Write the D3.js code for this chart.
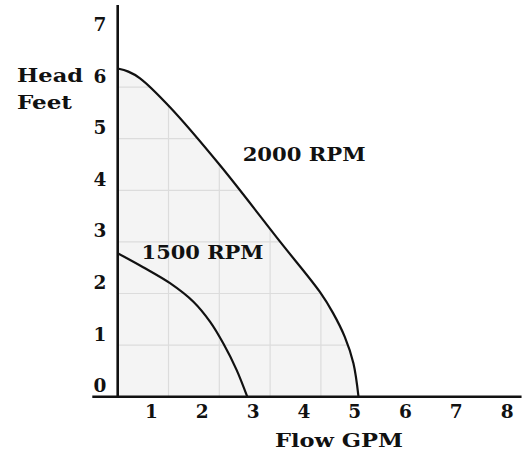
<!DOCTYPE html>
<html>
<head>
<meta charset="utf-8">
<script src="https://cdn.jsdelivr.net/npm/d3@7"></script>
<style>
body { margin: 0; background: #fff; }
text { font-family: "DejaVu Serif", serif; font-weight: bold; fill: #111; }
</style>
</head>
<body>
<script>
// tick labels
var xTicks = [1, 2, 3, 4, 5, 6, 7, 8];
var yTicks = [0, 1, 2, 3, 4, 5, 6, 7];

// pump curves (flow GPM, head feet)
var flow2000 = [0, 0.21, 0.44, 1.03, 2.01, 3.20, 3.98, 4.24, 4.47, 4.64, 4.74];
var head2000 = [6.36, 6.30, 6.17, 5.61, 4.49, 3.00, 2.03, 1.62, 1.16, 0.65, 0];
var flow1500 = [0, 0.50, 1.03, 1.49, 1.82, 2.08, 2.34, 2.55];
var head1500 = [2.78, 2.51, 2.20, 1.84, 1.45, 1.03, 0.52, 0];

var W = 526, H = 450;

var svg = d3.select("body").append("svg")
    .attr("width", W)
    .attr("height", H);

var x = d3.scaleLinear().domain([0, 8]).range([117.7, 117.7 + 50.8 * 8]);
var y = d3.scaleLinear().domain([0, 7]).range([396.7, 396.7 - 51.6 * 7]);

var pts2000 = flow2000.map(function(f, i){ return [f, head2000[i]]; });
var pts1500 = flow1500.map(function(f, i){ return [f, head1500[i]]; });

var line = d3.line()
    .x(function(d){ return x(d[0]); })
    .y(function(d){ return y(d[1]); })
    .curve(d3.curveCatmullRom.alpha(0.5));

var area = d3.area()
    .x(function(d){ return x(d[0]); })
    .y0(y(0))
    .y1(function(d){ return y(d[1]); })
    .curve(d3.curveCatmullRom.alpha(0.5));

// shaded region under the 2000 rpm curve, with its grid
svg.append("clipPath").attr("id", "under")
    .append("path").attr("d", area(pts2000));

svg.append("path")
    .attr("d", area(pts2000))
    .attr("fill", "#f4f4f4");

var grid = svg.append("g").attr("clip-path", "url(#under)");
grid.selectAll(".vg").data(xTicks).enter().append("line")
    .attr("x1", function(d){ return x(d); })
    .attr("x2", function(d){ return x(d); })
    .attr("y1", y(0)).attr("y2", y(7))
    .attr("stroke", "#dcdcdc").attr("stroke-width", 1.2);
grid.selectAll(".hg").data(yTicks.slice(1)).enter().append("line")
    .attr("x1", x(0)).attr("x2", x(8))
    .attr("y1", function(d){ return y(d); })
    .attr("y2", function(d){ return y(d); })
    .attr("stroke", "#dcdcdc").attr("stroke-width", 1.2);

// curves
svg.append("path").attr("d", line(pts2000))
    .attr("fill", "none").attr("stroke", "#111").attr("stroke-width", 2.2);
svg.append("path").attr("d", line(pts1500))
    .attr("fill", "none").attr("stroke", "#111").attr("stroke-width", 2.2);

// axis lines
svg.append("line")
    .attr("x1", x(-0.5)).attr("x2", x(7.95))
    .attr("y1", y(0)).attr("y2", y(0))
    .attr("stroke", "#111").attr("stroke-width", 2.6);
svg.append("line")
    .attr("x1", x(0)).attr("x2", x(0))
    .attr("y1", y(0) + 1).attr("y2", y(7.59))
    .attr("stroke", "#111").attr("stroke-width", 2.6);

// tick labels (drawn offset from the grid, as in the picture)
var xAxis = svg.append("g")
    .attr("transform", "translate(0," + y(0) + ")")
    .call(d3.axisBottom(x).tickValues(xTicks).tickSize(0).tickFormat(d3.format("d")));
xAxis.select(".domain").remove();
xAxis.selectAll("text")
    .attr("x", -17.5).attr("y", 21.5).attr("dy", 0)
    .style("font-size", "18.5px")
    .style("font-family", "DejaVu Serif").style("font-weight", "bold")
    .attr("fill", "#111");

var yAxis = svg.append("g")
    .attr("transform", "translate(100,0)")
    .call(d3.axisLeft(y).tickValues(yTicks).tickSize(0).tickFormat(d3.format("d")));
yAxis.select(".domain").remove();
yAxis.selectAll("text")
    .attr("x", 0).attr("y", -5).attr("dy", 0)
    .attr("text-anchor", "middle")
    .style("font-size", "18.5px")
    .style("font-family", "DejaVu Serif").style("font-weight", "bold")
    .attr("fill", "#111");

// titles
svg.append("text").attr("x", 17).attr("y", 81.5)
    .attr("textLength", 66).attr("lengthAdjust", "spacingAndGlyphs")
    .style("font-size", "18px").text("Head");
svg.append("text").attr("x", 17).attr("y", 108.5)
    .attr("textLength", 55).attr("lengthAdjust", "spacingAndGlyphs")
    .style("font-size", "18px").text("Feet");
svg.append("text").attr("x", 275).attr("y", 446.5)
    .attr("textLength", 128).attr("lengthAdjust", "spacingAndGlyphs")
    .style("font-size", "18px").text("Flow GPM");

// curve labels
svg.append("text").attr("x", x(2.46)).attr("y", y(4.57))
    .attr("textLength", 123).attr("lengthAdjust", "spacingAndGlyphs")
    .style("font-size", "18px").text("2000 RPM");
svg.append("text").attr("x", x(0.47)).attr("y", y(2.67))
    .attr("textLength", 122).attr("lengthAdjust", "spacingAndGlyphs")
    .style("font-size", "18px").text("1500 RPM");
</script>
</body>
</html>
